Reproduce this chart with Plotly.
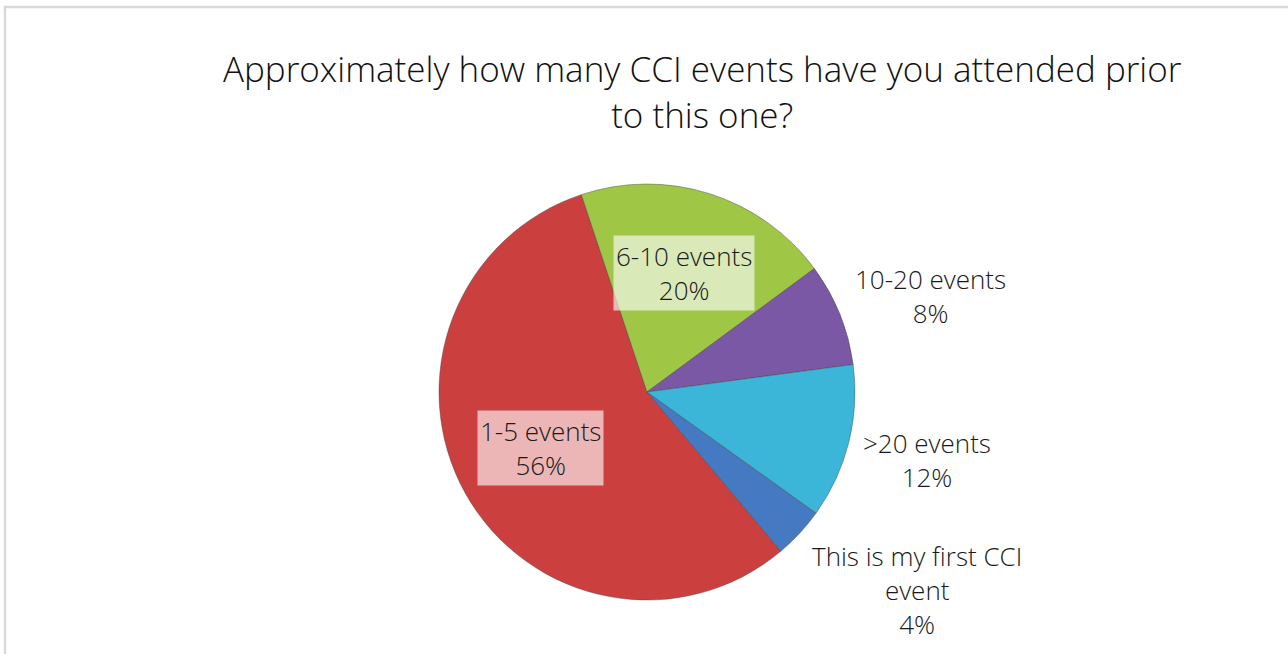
import math
import plotly.graph_objects as go

# ---- data ----
categories = ["This is my first CCI event", "1-5 events", "6-10 events", "10-20 events", ">20 events"]
label_text = ["This is my first CCI<br>event", "1-5 events", "6-10 events", "10-20 events", ">20 events"]
values = [4, 56, 20, 8, 12]
colors = ["#4579C1", "#CC3F3F", "#9FC645", "#7A58A6", "#3BB5D8"]
title_text = "Approximately how many CCI events have you attended prior<br>to this one?"

# ---- layout/style ----
W, H = 1288, 654
CX, CY, R = 647, 392, 208
ROTATION = 125.6
FONT = "Open Sans, Liberation Sans, Arial"
# label placement: (radial factor, angle nudge in deg, background)
label_style = [
    (1.61, -6.5, None),
    (0.58, 1.6, "rgba(255,255,255,0.62)"),
    (0.60, -0.5, "rgba(255,255,255,0.62)"),
    (1.44, 3.3, None),
    (1.385, -0.4, None),
]

fig = go.Figure()
fig.add_trace(go.Pie(
    labels=categories,
    values=values,
    sort=False,
    direction="clockwise",
    rotation=ROTATION,
    textinfo="none",
    hoverinfo="label+percent",
    marker=dict(colors=colors, line=dict(color="rgba(70,70,70,0.55)", width=0.8)),
    domain=dict(x=[(CX - R) / W, (CX + R) / W], y=[1 - (CY + R) / H, 1 - (CY - R) / H]),
    showlegend=False,
))

total = sum(values)
annotations = []
start = ROTATION
for i, v in enumerate(values):
    span = 360.0 * v / total
    mid = start + span / 2
    start += span
    rf, nudge, bg = label_style[i]
    th = math.radians(mid + nudge)
    px = CX + rf * R * math.sin(th)
    py = CY - rf * R * math.cos(th)
    pct = round(100.0 * v / total)
    annotations.append(dict(
        x=px / W, y=1 - py / H, xref="paper", yref="paper",
        text=f"{label_text[i]}<br>{pct}%", showarrow=False,
        xanchor="center", yanchor="middle", align="center",
        font=dict(family=FONT, size=26, color="#1a1a1a", weight=300),
        bgcolor=bg if bg else "rgba(0,0,0,0)", borderpad=2,
    ))

annotations.append(dict(
    x=702.5 / W, y=1 - 43 / H, xref="paper", yref="paper",
    text=title_text, showarrow=False, xanchor="center", yanchor="top", align="center",
    font=dict(family=FONT, size=35, color="#111111", weight=300),
))

fig.update_layout(
    width=W, height=H,
    margin=dict(l=0, r=0, t=0, b=0),
    paper_bgcolor="white",
    plot_bgcolor="white",
    annotations=annotations,
    shapes=[dict(type="rect", xref="paper", yref="paper",
                 x0=5 / W, x1=1.02, y0=-0.02, y1=1 - 7 / H,
                 line=dict(color="#D9D9D9", width=2.5), fillcolor="rgba(0,0,0,0)")],
)

fig.write_html("out.html", config={"displayModeBar": False},
               post_script="document.body.style.margin='0';document.body.style.overflow='hidden';")
